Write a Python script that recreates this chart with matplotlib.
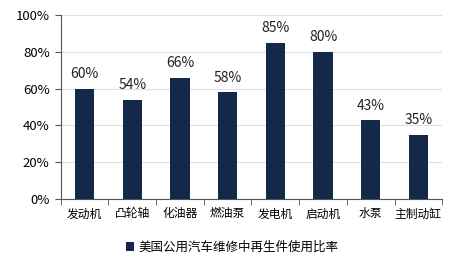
import numpy as np
import matplotlib
matplotlib.use("Agg")
import matplotlib.pyplot as plt
from matplotlib.ticker import FuncFormatter

plt.rcParams['font.family'] = ['Noto Sans CJK SC', 'DejaVu Sans']

categories = ["发动机", "凸轮轴", "化油器", "燃油泵", "发电机", "启动机", "水泵", "主制动缸"]
values = [60, 54, 66, 58, 85, 80, 43, 35]
series_name = "美国公用汽车维修中再生件使用比率"

fig = plt.figure(figsize=(4.64, 2.63), dpi=100)
ax = fig.add_axes([0.131, 0.243, 0.822, 0.70])

x = np.arange(len(categories))
bars = ax.bar(x, values, width=0.4, color="#14294a", label=series_name, zorder=3)
for xi, v in zip(x, values):
    ax.text(xi, v + 4, f"{v}%", ha="center", va="bottom", fontsize=10, color="#222222")

ax.set_ylim(0, 100)
ax.set_xlim(-0.5, len(categories) - 0.5)
ax.set_yticks(np.arange(0, 101, 20))
ax.yaxis.set_major_formatter(FuncFormatter(lambda v, p: f"{int(v)}%"))
ax.grid(axis="y", color="#e0e0e0", linewidth=0.8, zorder=0)

ax.set_xticks(x)
ax.set_xticklabels(categories, fontsize=8.5)
ax.set_xticks(np.arange(-0.5, len(categories), 1), minor=True)
ax.tick_params(axis="x", which="major", length=0, pad=6)
ax.tick_params(axis="x", which="minor", length=4, color="#555555")
ax.tick_params(axis="y", length=4, color="#555555", labelsize=9.5, pad=4)

for s in ["top", "right"]:
    ax.spines[s].set_visible(False)
ax.spines["left"].set_color("#555555")
ax.spines["bottom"].set_color("#555555")

fig.legend(handles=[bars], labels=[series_name], loc="center", bbox_to_anchor=(0.5, 0.06),
           frameon=False, fontsize=9, handlelength=0.7, handleheight=0.7, handletextpad=0.3)

fig.savefig("out.png", dpi=100)
